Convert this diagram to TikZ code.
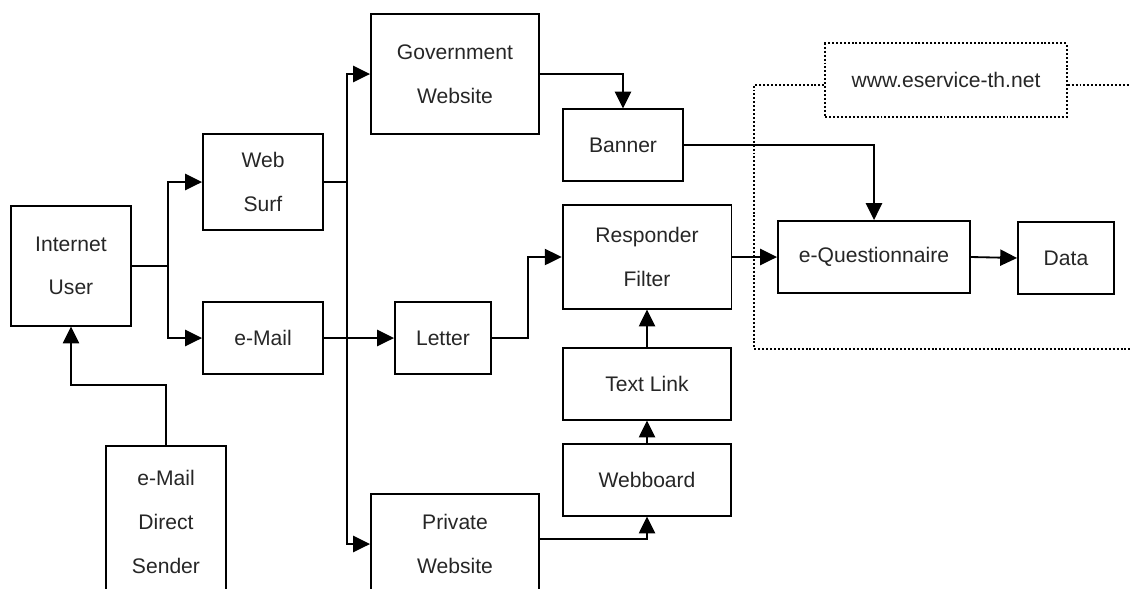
\documentclass[tikz,border=0pt]{standalone}
\usepackage{fontspec}
\setmainfont{Liberation Sans}
\usetikzlibrary{arrows.meta}

\begin{document}
\begin{tikzpicture}[x=0.025cm, y=-0.025cm, line width=1.3pt,
    every node/.style={font=\fontsize{15}{31}\selectfont, text=black!85},
    box/.style={draw, align=center, inner sep=0pt},
    flow/.style={-{Triangle[length=12pt, width=11.5pt]}},
    zone/.style={dash pattern=on 1.4pt off 1.4pt, line width=1.5pt}]
    \clip (0,0) rectangle (1130,588);

    % sources
    \node[box, minimum width=3cm, minimum height=2.98cm] (user) at (71,266) {Internet\\User};
    \node[box, minimum width=3cm, minimum height=3.8cm] (sender) at (166,522) {e-Mail\\Direct\\Sender};
    \node[box, minimum width=3cm, minimum height=2.4cm] (surf) at (263,182) {Web\\Surf};
    \node[box, minimum width=3cm, minimum height=1.8cm] (mail) at (263,338) {e-Mail};

    % websites and channels
    \node[box, minimum width=4.2cm, minimum height=3cm] (gov) at (455,74) {Government\\Website};
    \node[box, minimum width=4.2cm, minimum height=2.5cm] (private) at (455,544) {Private\\Website};
    \node[box, minimum width=3cm, minimum height=1.78cm] (banner) at (623,145) {Banner};
    \node[box, minimum width=2.4cm, minimum height=1.8cm] (letter) at (443,338) {Letter};
    \node[box, minimum width=4.22cm, minimum height=2.58cm] (filter) at (647,257) {Responder\\Filter};
    \node[box, minimum width=4.2cm, minimum height=1.78cm] (textlink) at (647,384) {Text Link};
    \node[box, minimum width=4.2cm, minimum height=1.78cm] (webboard) at (647,480) {Webboard};

    % questionnaire site
    \node[box, minimum width=4.8cm, minimum height=1.8cm] (quest) at (874,257) {e-Questionnaire};
    \node[box, minimum width=2.4cm, minimum height=1.8cm] (data) at (1066,258) {Data};
    \node[box, zone, minimum width=6.03cm, minimum height=1.83cm] (site) at (946,80) {www.eservice-th.net};

    \coordinate (tl) at (754,85);
    \coordinate (bl) at (754,349);
    \coordinate (br) at (1130,349);
    \coordinate (tr) at (1130,85);
    \draw[zone] (site.west |- tl) -- (tl) -- (bl) -- (br);
    \draw[zone] (site.east |- tr) -- (tr);

    % connectors
    \draw[flow] (user.east) -- ++(36,0) |- (surf.west);
    \draw[flow] (user.east) -- ++(36,0) |- (mail.west);
    \draw[flow] (sender.north) -- ++(0,-60) -| (user.south);

    \coordinate (trunk) at (347,182);
    \draw (surf.east) -- (trunk);
    \draw[flow] (trunk) |- (gov.west);
    \draw[flow] (trunk) |- (private.west);

    \draw[flow] (mail.east) -- (letter.west);
    \draw[flow] (letter.east) -- ++(36,0) |- (filter.west);
    \draw[flow] (gov.east) -| (banner.north);
    \draw[flow] (banner.east) -| (quest.north);
    \draw[flow] (filter.east) -- (quest.west);
    \draw[flow] (quest.east) -- (data.west);
    \draw[flow] (textlink.north) -- (filter.south);
    \draw[flow] (webboard.north) -- (textlink.south);
    \draw[flow] ([yshift=0.125cm]private.east) -| (webboard.south);
\end{tikzpicture}
\end{document}
